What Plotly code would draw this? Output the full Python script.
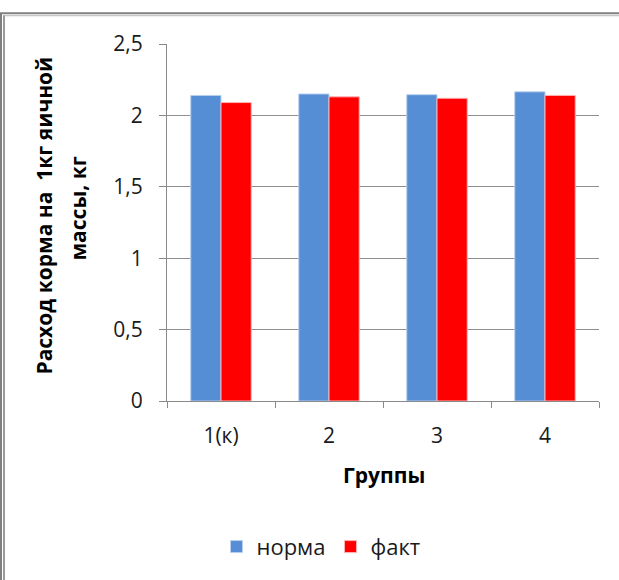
import plotly.graph_objects as go

# Feed consumption per 1 kg of egg mass by group
groups = ["1(к)", "2", "3", "4"]
norma = [2.14, 2.15, 2.145, 2.165]
fakt = [2.09, 2.13, 2.12, 2.14]

y_ticks = [0, 0.5, 1, 1.5, 2, 2.5]
y_tick_labels = ["0", "0,5", "1", "1,5", "2", "2,5"]

y_title_lines = ["Расход корма на  1кг яичной", "массы, кг"]
x_title = "Группы"

FONT = "Open Sans"
AXIS_GREY = "#8a8a8a"
TEXT = "#1a1a1a"

fig = go.Figure()
fig.add_trace(go.Bar(
    name="норма", x=groups, y=norma,
    marker=dict(color="#558ed5", line=dict(color="#b9cff0", width=1)),
))
fig.add_trace(go.Bar(
    name="факт", x=groups, y=fakt,
    marker=dict(color="#ff0000", line=dict(color="#ffb3b3", width=1)),
))

# plot area in pixels: x 167..599, y 44..404
L, R, T, B = 167, 20, 44, 176
W, H = 619, 580
pw, ph = W - L - R, H - T - B


def px(x):
    return (x - L) / pw


def py(y):
    return (H - B - y) / ph


frame = [
    # outer chart frame, left and top edges
    dict(x0=px(1), x1=px(1), y0=py(13), y1=py(600), color="#7f7f7f", width=2),
    dict(x0=px(4), x1=px(4), y0=py(15), y1=py(600), color="#9a9a9a", width=2),
    dict(x0=px(0), x1=px(700), y0=py(13), y1=py(13), color="#808080", width=2),
    dict(x0=px(4), x1=px(700), y0=py(15.5), y1=py(15.5), color="#b5b5b5", width=1),
]
shapes = [
    dict(type="line", xref="paper", yref="paper", x0=s["x0"], x1=s["x1"],
         y0=s["y0"], y1=s["y1"], line=dict(color=s["color"], width=s["width"]))
    for s in frame
]

annotations = [
    dict(text=f"<b>{y_title_lines[0]}</b>", textangle=-90, xref="paper", yref="paper",
         x=px(44), y=py(217), xanchor="center", yanchor="middle", showarrow=False,
         font=dict(size=21, color="#000", family=FONT)),
    dict(text=f"<b>{y_title_lines[1]}</b>", textangle=-90, xref="paper", yref="paper",
         x=px(78), y=py(210), xanchor="center", yanchor="middle", showarrow=False,
         font=dict(size=21, color="#000", family=FONT)),
    dict(text=f"<b>{x_title}</b>", xref="paper", yref="paper",
         x=px(384), y=py(479), xanchor="center", yanchor="middle", showarrow=False,
         font=dict(size=21, color="#000", family=FONT)),
]

fig.update_layout(
    width=W, height=H,
    margin=dict(l=L, r=R, t=T, b=B, pad=0),
    paper_bgcolor="white", plot_bgcolor="white",
    barmode="group", bargap=0.44, bargroupgap=0.0,
    font=dict(family=FONT, color=TEXT, size=20),
    showlegend=True,
    legend=dict(orientation="h", x=px(321), xanchor="center", y=py(551),
                yanchor="middle", font=dict(size=22, color=TEXT),
                itemwidth=30, traceorder="normal"),
    shapes=shapes,
    annotations=annotations,
    xaxis=dict(
        showline=True, linecolor=AXIS_GREY, linewidth=1,
        ticks="outside", ticklen=6, tickcolor=AXIS_GREY, tickson="boundaries",
        showgrid=False, ticklabelstandoff=16,
        tickfont=dict(size=21, color=TEXT),
    ),
    yaxis=dict(
        range=[0, 2.5], tickvals=y_ticks, ticktext=y_tick_labels,
        showline=True, linecolor=AXIS_GREY, linewidth=1,
        ticks="outside", ticklen=7, tickcolor=AXIS_GREY, ticklabelstandoff=12,
        showgrid=True, gridcolor="#8f8f8f", gridwidth=1, zeroline=False,
        tickfont=dict(size=21, color=TEXT),
    ),
)

fig.write_html("out.html")
